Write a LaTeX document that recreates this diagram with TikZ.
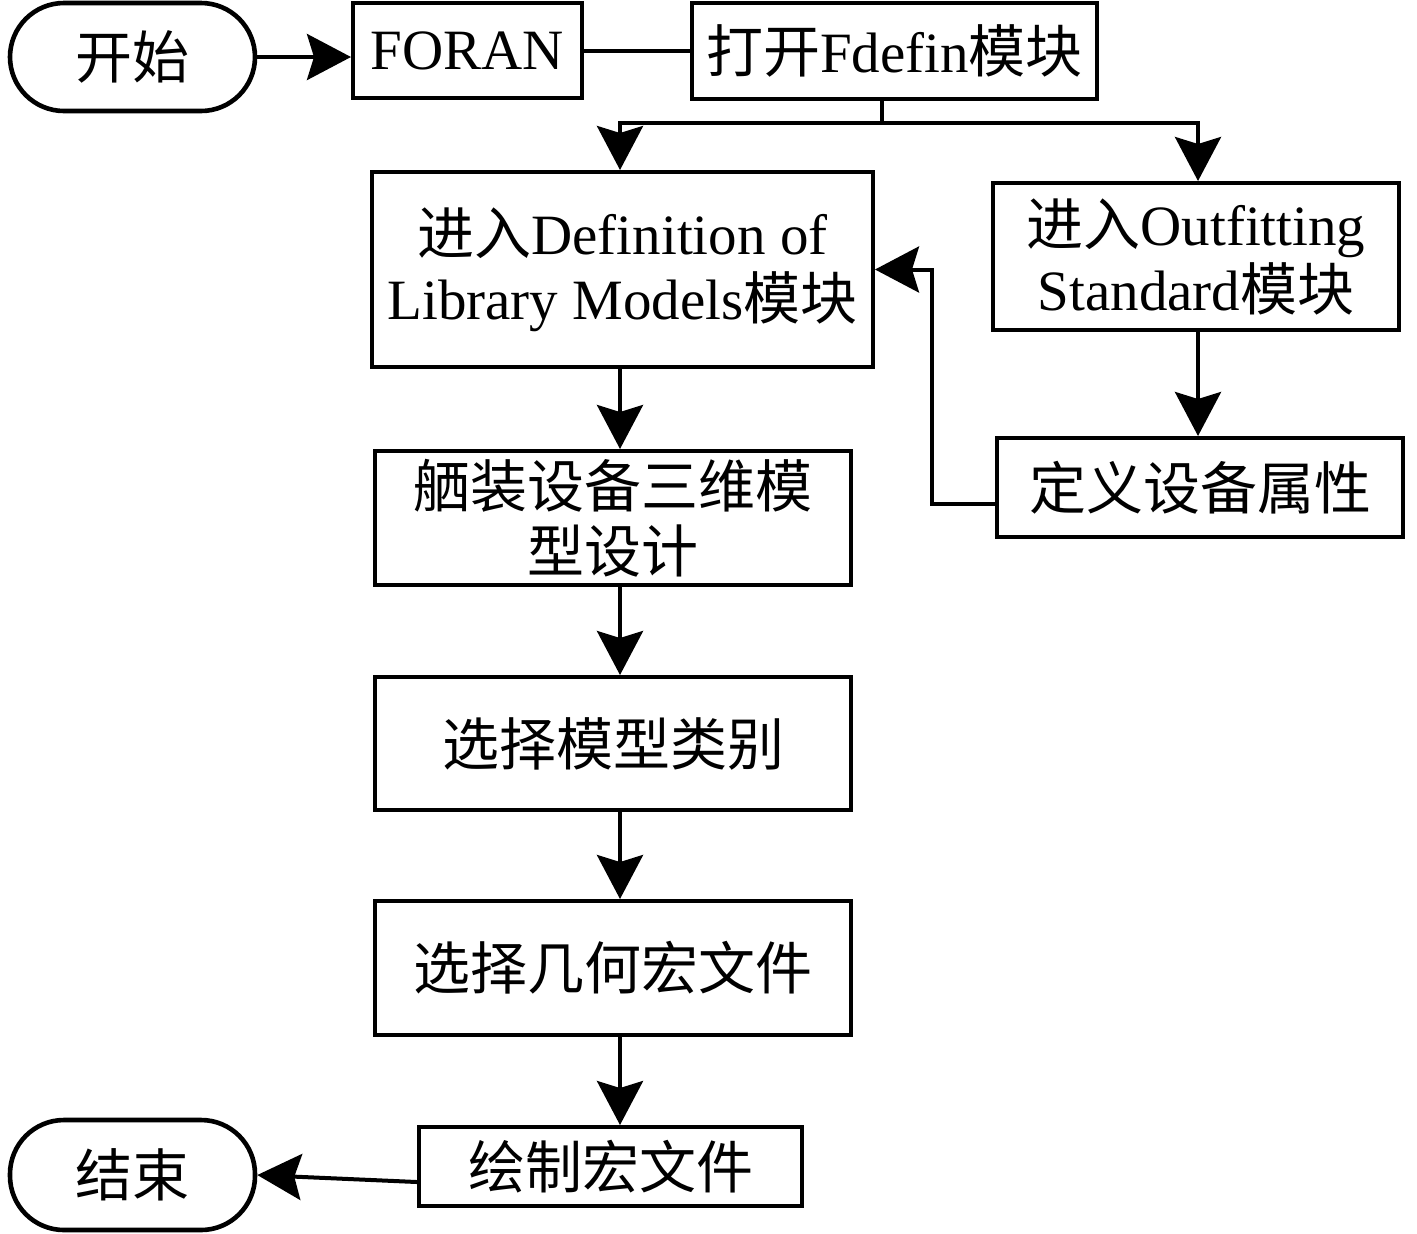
\documentclass[tikz,border=0pt]{standalone}
\usepackage{fontspec}
\setmainfont{Liberation Serif}
\newfontfamily\cjk{Noto Sans CJK SC}
\usetikzlibrary{arrows.meta,calc}
\begin{document}
\begin{tikzpicture}[x=0.5pt,y=-0.5pt,
  every node/.style={font=\fontsize{28.5}{32.5}\selectfont},
  box/.style={draw,line width=2pt,rectangle,align=center,inner sep=0pt},
  term/.style={draw,line width=2.3pt,rectangle,rounded corners=27pt,align=center,inner sep=0pt},
  conn/.style={line width=2pt},
  arr/.style={line width=2pt,-{Stealth[length=22pt,width=23pt,inset=3.5pt]}}]
\useasboundingbox (0,0) rectangle (1417,1233);
\node[term,minimum width=122.5pt,minimum height=54pt] (start) at (132.5,57) {\cjk 开始};
\node[box,minimum width=114.5pt,minimum height=47.5pt] (foran) at (467.5,50.5) {FORAN};
\node[box,minimum width=202.5pt,minimum height=48pt] (fdefin) at (894.5,51) {{\cjk 打开}Fdefin{\cjk 模块}};
\node[box,minimum width=250.5pt,minimum height=97.5pt] (def) at (622.5,269.5) {{\cjk 进入}Definition of\\Library Models{\cjk 模块}};
\node[box,minimum width=203pt,minimum height=73.5pt] (out) at (1196,256.5) {{\cjk 进入}Outfitting\\Standard{\cjk 模块}};
\node[box,minimum width=203pt,minimum height=49.5pt] (ding) at (1200,487.5) {\cjk 定义设备属性};
\node[box,minimum width=238pt,minimum height=67pt] (xz) at (613,518) {\cjk 舾装设备三维模\\\cjk 型设计};
\node[box,minimum width=238pt,minimum height=66.5pt] (mx) at (613,743.5) {\cjk 选择模型类别};
\node[box,minimum width=238pt,minimum height=67pt] (jh) at (613,968) {\cjk 选择几何宏文件};
\node[box,minimum width=191.5pt,minimum height=39.5pt] (hz) at (610.5,1166.5) {\cjk 绘制宏文件};
\node[term,minimum width=122.5pt,minimum height=55pt] (end) at (132.5,1175) {\cjk 结束};
\coordinate (col) at (620,0);
\coordinate (br) at (882,123);
\coordinate (fb) at (932,0);
\draw[arr] (start.east) -- (start.east -| foran.west);
\draw[conn] (foran.east) -- (foran.east -| fdefin.west);
\draw[conn] (fdefin.south -| br) -- (br);
\draw[arr] (br) -| (def.north -| col);
\draw[arr] (br) -| ([xshift=1pt]out.north);
\draw[arr] ([xshift=1pt]out.south) -- ([xshift=1pt]out.south |- ding.north);
\draw[arr] ([yshift=-8.25pt]ding.west) -| (fb |- def.east) -- (def.east);
\draw[arr] (def.south -| col) -- (xz.north -| col);
\draw[arr] (xz.south -| col) -- (mx.north -| col);
\draw[arr] (mx.south -| col) -- (jh.north -| col);
\draw[arr] (jh.south -| col) -- (hz.north -| col);
\draw[arr] ([yshift=-7.75pt]hz.west) -- (end.east);
\end{tikzpicture}
\end{document}
